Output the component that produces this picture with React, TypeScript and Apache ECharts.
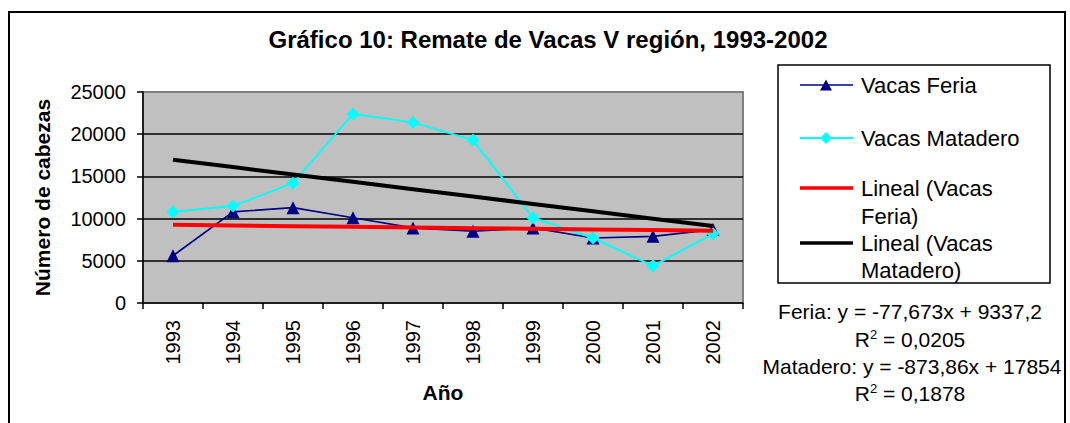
import React, { useEffect, useRef } from "react";
import * as echarts from "echarts";

const years = ["1993", "1994", "1995", "1996", "1997", "1998", "1999", "2000", "2001", "2002"];
const vacasFeria = [5600, 10800, 11300, 10100, 8900, 8500, 8900, 7700, 7900, 8700];
const vacasMatadero = [10800, 11500, 14200, 22400, 21400, 19300, 10100, 7700, 4400, 8200];
const yMin = 0;
const yMax = 25000;
const yInterval = 5000;

const feriaSlope = -77.673;
const feriaIntercept = 9337.2;
const feriaR2 = "0,0205";
const mataderoSlope = -873.86;
const mataderoIntercept = 17854;
const mataderoR2 = "0,1878";

const seriesNames = ["Vacas Feria", "Vacas Matadero", "Lineal (Vacas Feria)", "Lineal (Vacas Matadero)"];
const titleText = "Gráfico 10: Remate de Vacas V región, 1993-2002";
const xName = "Año";
const yName = "Número de cabezas";

const FONT = "'Liberation Sans', Arial, sans-serif";

const fmt = (v: number) => String(v).replace(".", ",");

export default function App() {
  const ref = useRef<HTMLDivElement>(null);

  useEffect(() => {
    document.body.style.margin = "0";
    if (!ref.current) return;
    const chart = echarts.init(ref.current, undefined, { renderer: "svg" });

    const trendFeria = years.map((_, i) => feriaIntercept + feriaSlope * (i + 1));
    const trendMatadero = years.map((_, i) => mataderoIntercept + mataderoSlope * (i + 1));

    const eq1 = `Feria: y = ${fmt(feriaSlope)}x + ${fmt(feriaIntercept)}`;
    const eq2 = `Matadero: y = ${fmt(mataderoSlope)}x + ${fmt(mataderoIntercept)}`;

    const legendTextStyle = { fontSize: 22, fontFamily: FONT, fill: "#000", textVerticalAlign: "middle" as const };
    const supRich = {
      s: { fontSize: 13, fontFamily: FONT, verticalAlign: "top" as const, lineHeight: 22 },
      n: { fontSize: 21, fontFamily: FONT, lineHeight: 22 },
    };

    chart.setOption({
      animation: false,
      backgroundColor: "#fff",
      textStyle: { fontFamily: FONT, color: "#000" },
      grid: {
        left: 143,
        top: 92,
        width: 600,
        height: 211,
        show: true,
        backgroundColor: "#C0C0C0",
        borderColor: "#808080",
        borderWidth: 2,
      },
      xAxis: {
        type: "category",
        data: years,
        boundaryGap: true,
        name: xName,
        nameLocation: "middle",
        nameGap: 79,
        nameTextStyle: { fontSize: 21, fontWeight: "bold", fontFamily: FONT, color: "#000" },
        axisLine: { show: true, lineStyle: { color: "#000", width: 1.5 } },
        axisTick: { show: true, interval: 0, alignWithLabel: false, length: 6, lineStyle: { color: "#000", width: 1.5 } },
        axisLabel: { rotate: 90, fontSize: 20, margin: 17, color: "#000", fontFamily: FONT, interval: 0 },
        splitLine: { show: false },
      },
      yAxis: {
        type: "value",
        min: yMin,
        max: yMax,
        interval: yInterval,
        name: yName,
        nameLocation: "middle",
        nameGap: 90,
        nameRotate: 90,
        nameTextStyle: { fontSize: 21, fontWeight: "bold", fontFamily: FONT, color: "#000" },
        axisLine: { show: true, lineStyle: { color: "#000", width: 1.5 } },
        axisTick: { show: true, length: 6, lineStyle: { color: "#000", width: 1.5 } },
        axisLabel: {
          fontSize: 20,
          margin: 17,
          color: "#000",
          fontFamily: FONT,
          formatter: (v: number) => String(v),
        },
        splitLine: { show: true, showMaxLine: false, showMinLine: false, lineStyle: { color: "#000", width: 1.5 } },
      },
      series: [
        {
          name: seriesNames[0],
          type: "line",
          data: vacasFeria,
          symbol: "triangle",
          symbolSize: 13,
          itemStyle: { color: "#000080" },
          lineStyle: { color: "#000080", width: 1.7 },
          z: 3,
        },
        {
          name: seriesNames[1],
          type: "line",
          data: vacasMatadero,
          symbol: "diamond",
          symbolSize: 13,
          itemStyle: { color: "#00FFFF" },
          lineStyle: { color: "#00FFFF", width: 2 },
          z: 3,
        },
        {
          name: seriesNames[2],
          type: "line",
          data: trendFeria,
          showSymbol: false,
          symbol: "none",
          lineStyle: { color: "#FF0000", width: 4 },
          z: 4,
        },
        {
          name: seriesNames[3],
          type: "line",
          data: trendMatadero,
          showSymbol: false,
          symbol: "none",
          lineStyle: { color: "#000000", width: 4 },
          z: 4,
        },
      ],
      graphic: [
        {
          type: "rect",
          shape: { x: 9, y: 12, width: 1056, height: 430 },
          style: { fill: "none", stroke: "#000", lineWidth: 2 },
          silent: true,
          z: -10,
        },
        {
          type: "text",
          x: 548,
          y: 39,
          style: {
            text: titleText,
            fontSize: 24,
            fontWeight: "bold",
            fontFamily: FONT,
            fill: "#000",
            textAlign: "center",
            textVerticalAlign: "middle",
          },
        },
        // legend box
        {
          type: "rect",
          shape: { x: 778, y: 65, width: 272, height: 218 },
          style: { fill: "#fff", stroke: "#000", lineWidth: 1.5 },
        },
        { type: "line", shape: { x1: 800, y1: 85, x2: 853, y2: 85 }, style: { stroke: "#000080", lineWidth: 1.7 } },
        {
          type: "polygon",
          shape: { points: [[820, 90.5], [832, 90.5], [826, 79.5]] },
          style: { fill: "#000080" },
        },
        { type: "text", x: 861, y: 85, style: { ...legendTextStyle, text: seriesNames[0] } },
        { type: "line", shape: { x1: 800, y1: 138, x2: 853, y2: 138 }, style: { stroke: "#00FFFF", lineWidth: 2 } },
        {
          type: "polygon",
          shape: { points: [[826, 132], [832, 138], [826, 144], [820, 138]] },
          style: { fill: "#00FFFF" },
        },
        { type: "text", x: 861, y: 138, style: { ...legendTextStyle, text: seriesNames[1] } },
        { type: "line", shape: { x1: 800, y1: 188, x2: 853, y2: 188 }, style: { stroke: "#FF0000", lineWidth: 3.5 } },
        { type: "text", x: 861, y: 188, style: { ...legendTextStyle, text: "Lineal (Vacas" } },
        { type: "text", x: 861, y: 216, style: { ...legendTextStyle, text: "Feria)" } },
        { type: "line", shape: { x1: 800, y1: 243, x2: 853, y2: 243 }, style: { stroke: "#000000", lineWidth: 3.5 } },
        { type: "text", x: 861, y: 243, style: { ...legendTextStyle, text: "Lineal (Vacas" } },
        { type: "text", x: 861, y: 270, style: { ...legendTextStyle, text: "Matadero)" } },
        // equations
        {
          type: "text",
          x: 910,
          y: 311,
          style: { text: eq1, fontSize: 21, fontFamily: FONT, fill: "#000", textAlign: "center", textVerticalAlign: "middle" },
        },
        {
          type: "text",
          x: 910,
          y: 339,
          style: {
            text: `{n|R}{s|2}{n| = ${feriaR2}}`,
            rich: supRich,
            fill: "#000",
            textAlign: "center",
            textVerticalAlign: "middle",
          },
        },
        {
          type: "text",
          x: 912,
          y: 366,
          style: { text: eq2, fontSize: 21, fontFamily: FONT, fill: "#000", textAlign: "center", textVerticalAlign: "middle" },
        },
        {
          type: "text",
          x: 910,
          y: 393,
          style: {
            text: `{n|R}{s|2}{n| = ${mataderoR2}}`,
            rich: supRich,
            fill: "#000",
            textAlign: "center",
            textVerticalAlign: "middle",
          },
        },
      ],
    });

    return () => {
      chart.dispose();
    };
  }, []);

  return <div ref={ref} style={{ width: 1070, height: 423 }} />;
}
